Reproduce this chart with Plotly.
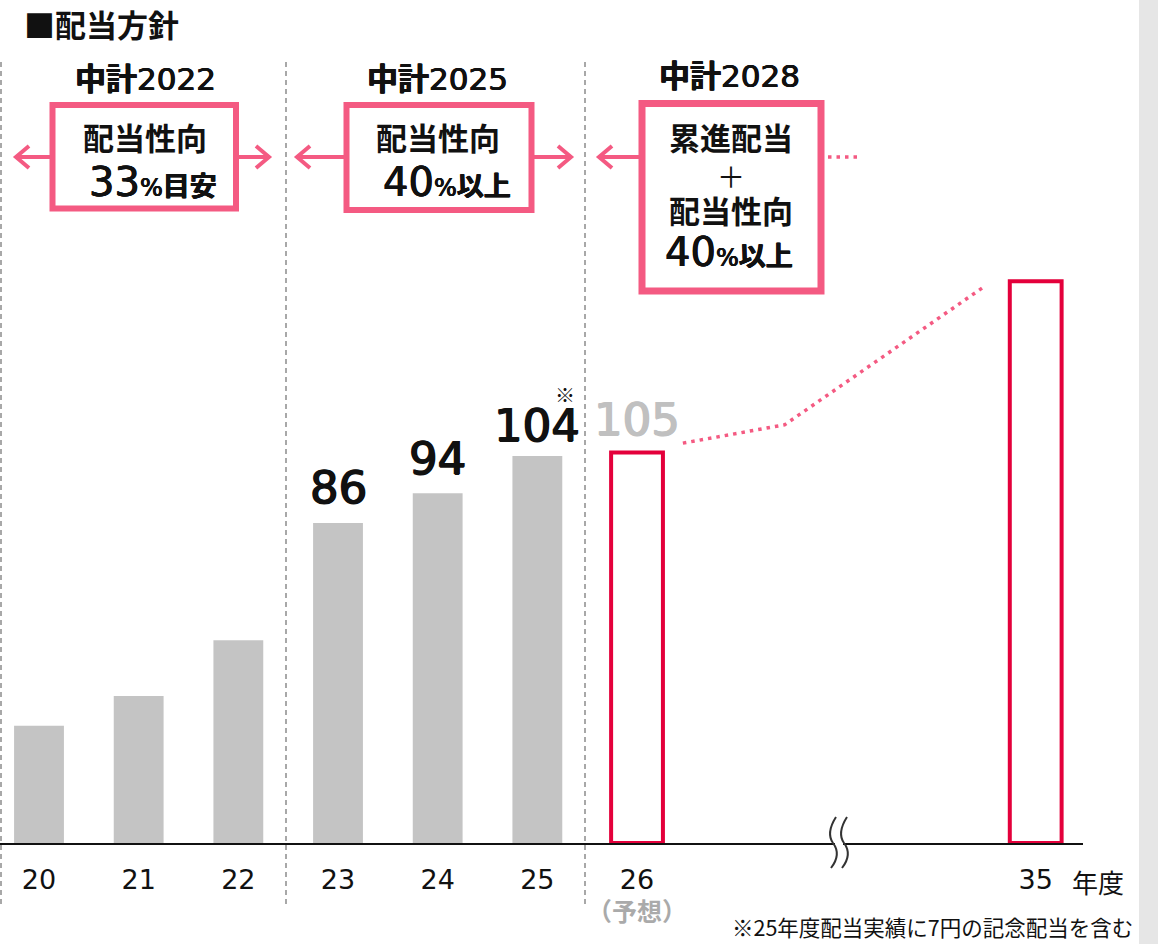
import plotly.graph_objects as go

# ---------------- data ----------------
years_actual = ["20", "21", "22", "23", "24", "25"]
dividends_actual = [31.5, 39.5, 54.5, 86, 94, 104]
years_plan = ["26", "35"]
dividends_plan = [105, 151]
tick_labels = ["20", "21", "22", "23", "24", "25", "26", "35"]
labelled_years = ["23", "24", "25", "26"]
labelled_values = [86, 94, 104, 105]
trend_x = [6.46, 7.48, 9.49]
trend_y = [107.5, 112.4, 149.7]

# category positions (35 sits after an axis break)
pos = {"20": 0, "21": 1, "22": 2, "23": 3, "24": 4, "25": 5, "26": 6, "35": 10}

W, H = 1158, 944
PLOT_R = 1083
BASE = 843
PX_PER_UNIT = 3.72
FONT = "DejaVu Sans, Noto Sans CJK JP"
CJK = "Noto Sans CJK JP"
PINK = "#f45a82"
CRIMSON = "#e4003b"
GREY_BAR = "#c4c4c4"
TXT = "#111111"


def PX(x):
    return x / PLOT_R


def PY(y):
    return (BASE - y) / BASE


fig = go.Figure()
fig.add_trace(go.Bar(
    x=[pos[y] for y in years_actual], y=dividends_actual, width=0.5,
    marker=dict(color=GREY_BAR, line=dict(width=0)), hoverinfo="skip",
))
fig.add_trace(go.Bar(
    x=[pos[y] for y in years_plan], y=dividends_plan, width=0.52,
    marker=dict(color="white", line=dict(color=CRIMSON, width=4)), hoverinfo="skip",
))
fig.add_trace(go.Scatter(
    x=trend_x, y=trend_y, mode="lines",
    line=dict(color=PINK, width=3.5, dash="3.5px,5px"), hoverinfo="skip",
))

shapes = []
annotations = []

# right grey strip
shapes.append(dict(type="rect", xref="paper", yref="paper", x0=PX(1139), x1=PX(1170),
                   y0=PY(-10), y1=PY(960), fillcolor="#e6e6e6", line=dict(width=0), layer="below"))

# dashed separators
for xp in [1, 286, 585]:
    shapes.append(dict(type="line", xref="paper", yref="paper", x0=PX(xp), x1=PX(xp),
                       y0=PY(62), y1=PY(905), line=dict(color="#8c8c8c", width=1.5, dash="5px,4px")))

# boxes
boxes = [(52.5, 105, 236, 208.5, 6), (346.5, 105, 531.5, 210, 6), (642, 103.5, 821, 291, 7)]
for x0, y0, x1, y1, lw in boxes:
    shapes.append(dict(type="rect", xref="paper", yref="paper", x0=PX(x0), x1=PX(x1),
                       y0=PY(y1), y1=PY(y0), line=dict(color=PINK, width=lw), fillcolor="rgba(0,0,0,0)"))


def arrow(x_from, x_tip, y):
    d = 1 if x_tip > x_from else -1
    shapes.append(dict(type="line", xref="paper", yref="paper", x0=PX(x_from), x1=PX(x_tip - d * 1),
                       y0=PY(y), y1=PY(y), line=dict(color=PINK, width=4)))
    path = "M {} {} L {} {} L {} {}".format(PX(x_tip - d * 13), PY(y - 11), PX(x_tip), PY(y),
                                            PX(x_tip - d * 13), PY(y + 11))
    shapes.append(dict(type="path", xref="paper", yref="paper", path=path,
                       line=dict(color=PINK, width=4)))


arrow(50, 16, 157)
arrow(239, 269, 157)
arrow(344, 297, 157)
arrow(534, 571, 157)
arrow(639, 599, 157)
# dotted continuation from third box
shapes.append(dict(type="line", xref="paper", yref="paper", x0=PX(828), x1=PX(860),
                   y0=PY(157), y1=PY(157), line=dict(color=PINK, width=3.5, dash="3.5px,5px")))

# axis break marks
for off in [0, 11]:
    p = "M {a} {b} C {c} {d}, {e} {f}, {g} {h} C {i} {j}, {k} {l}, {m} {n}".format(
        a=PX(836 + off), b=PY(817), c=PX(829 + off), d=PY(828), e=PX(828 + off), f=PY(836),
        g=PX(833 + off), h=PY(843), i=PX(839 + off), j=PY(851), k=PX(838 + off), l=PY(859),
        m=PX(831 + off), n=PY(868))
    shapes.append(dict(type="path", xref="paper", yref="paper", path=p,
                       line=dict(color="#333333", width=2)))
shapes.insert(0, dict(type="rect", xref="paper", yref="paper", x0=PX(835), x1=PX(843),
                      y0=PY(847), y1=PY(839), fillcolor="white", line=dict(width=0), layer="above"))

MED = "0.5px 0 0 {c}, -0.5px 0 0 {c}, 0 0.4px 0 {c}"


def text(x, y, s, size, color=TXT, bold=False, xanchor="center", yanchor="middle", family=FONT, medium=False):
    f = dict(family=family, size=size, color=color)
    if medium:
        f["shadow"] = MED.format(c=color)
    annotations.append(dict(xref="paper", yref="paper", x=PX(x), y=PY(y), text=("<b>%s</b>" % s) if bold else s,
                            showarrow=False, xanchor=xanchor, yanchor=yanchor, font=f))


text(22, 23, "■配当方針", 31, bold=True, xanchor="left", family=CJK)
text(145, 79, "<b>中計</b>2022", 31, medium=True)
text(437, 79, "<b>中計</b>2025", 31, medium=True)
text(729, 76, "<b>中計</b>2028", 31, medium=True)

text(145, 136, "配当性向", 31, bold=True, family=CJK)
text(153, 182, "<span style='font-size:40px'>33</span><span style='font-size:24px'>%</span><b>目安</b>", 27, medium=True)
text(438, 136, "配当性向", 31, bold=True, family=CJK)
text(447, 182, "<span style='font-size:40px'>40</span><span style='font-size:24px'>%</span><b>以上</b>", 27, medium=True)
text(731, 136, "累進配当", 31, bold=True, family=CJK)
text(731, 176, "＋", 28, bold=False, family=CJK)
text(731, 210, "配当性向", 31, bold=True, family=CJK)
text(729, 252, "<span style='font-size:40px'>40</span><span style='font-size:24px'>%</span><b>以上</b>", 27, medium=True)

# value labels above bars
label_shift = {"23": 33, "24": 32, "25": 28, "26": 30}
for yr, v in zip(labelled_years, labelled_values):
    c = "#c0c0c0" if yr == "26" else TXT
    annotations.append(dict(x=pos[yr], y=v, xref="x", yref="y", text="%d" % v, showarrow=False,
                            yanchor="middle", yshift=label_shift[yr] + 3,
                            font=dict(family=FONT, size=45, color=c,
                                      shadow="0.8px 0 0 {c}, -0.8px 0 0 {c}, 0 0.6px 0 {c}".format(c=c))))
text(565, 394, "※", 20, family=CJK)

text(637, 910, "（予想）", 25, color="#aaaaaa", bold=True, family=CJK)
text(1098, 881, "年度", 26, family=CJK)
text(1135, 926, "※25年度配当実績に7円の記念配当を含む", 21.5, xanchor="right", family=CJK)

fig.update_layout(
    width=W, height=H,
    margin=dict(l=0, r=W - PLOT_R, t=0, b=H - BASE, pad=0),
    paper_bgcolor="white", plot_bgcolor="white",
    showlegend=False, barmode="overlay",
    shapes=shapes, annotations=annotations,
    xaxis=dict(range=[-39 / 99.67, (PLOT_R - 39) / 99.67], tickvals=[pos[t] for t in tick_labels],
               ticktext=tick_labels, showgrid=False, zeroline=False, showline=True,
               linecolor="#111111", linewidth=2, ticks="", ticklabelstandoff=12,
               tickfont=dict(family=FONT, size=27, color=TXT), fixedrange=True),
    yaxis=dict(range=[0, BASE / PX_PER_UNIT], visible=False, fixedrange=True),
)

fig.write_html("out.html", config={"displayModeBar": False},
               post_script="document.body.style.margin='0';document.body.style.overflow='hidden';")
